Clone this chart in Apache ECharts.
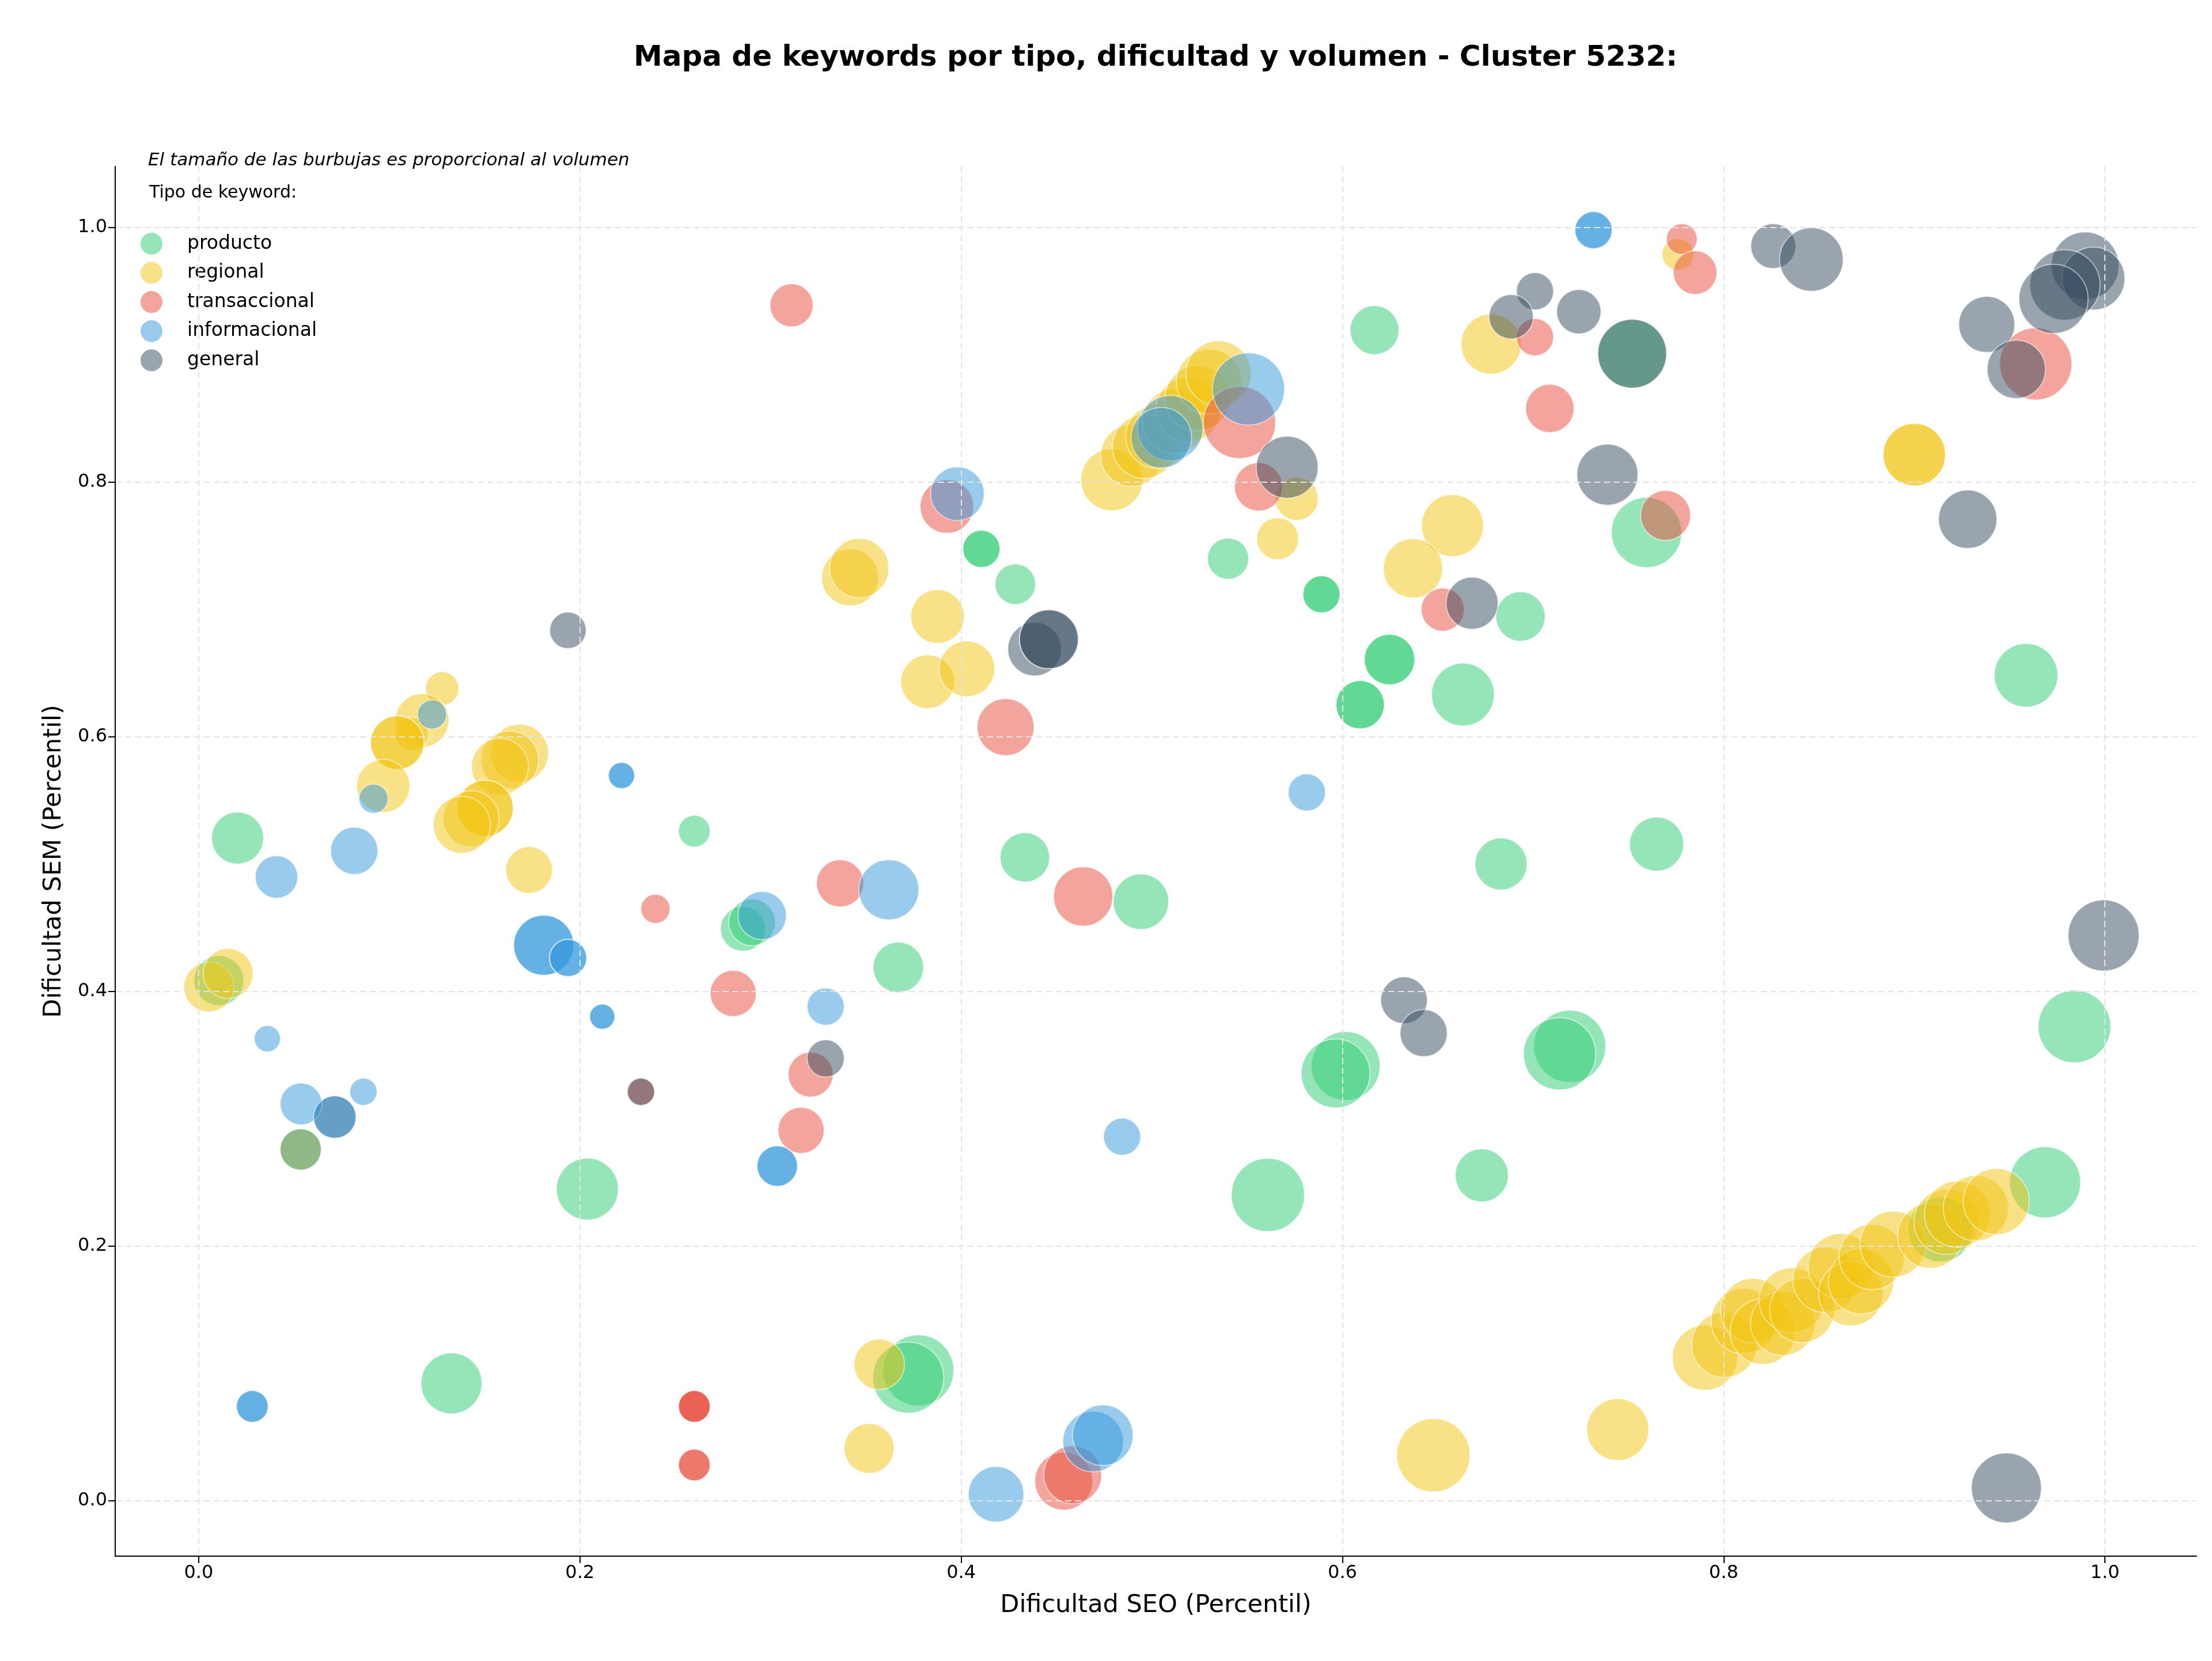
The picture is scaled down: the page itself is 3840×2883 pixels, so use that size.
<!DOCTYPE html>
<html><head><meta charset="utf-8">
<script src="https://cdn.jsdelivr.net/npm/echarts@6/dist/echarts.min.js"></script>
<style>html,body{margin:0;padding:0;background:#fff}#c{width:3840px;height:2883px}</style>
</head><body><div id="c"></div>
<script>
// ---- data ----
const categories = ['producto', 'regional', 'transaccional', 'informacional', 'general'];
const colors = { producto: '#2ecc71', regional: '#f1c40f', transaccional: '#e74c3c', informacional: '#3498db', general: '#34495e' };
const xTicks = [0, 0.2, 0.4, 0.6, 0.8, 1.0];
const yTicks = [0, 0.2, 0.4, 0.6, 0.8, 1.0];

const productoSEO = [0.4106,0.4106,0.4284,0.540,0.589,0.589,0.6168,0.752,0.7595,0.6934,0.0204,0.0106,0.26,0.4334,0.4943,0.2855,0.2903,0.367,0.6247,0.6247,0.6093,0.6093,0.6632,0.6832,0.7648,0.6017,0.5964,0.7192,0.7139,0.9586,0.984,0.2039,0.1326,0.3775,0.3722,0.5609,0.6731,0.9137,0.9686];
const productoSEM = [0.7477,0.7477,0.720,0.740,0.712,0.712,0.9195,0.901,0.7606,0.6946,0.5206,0.4086,0.526,0.5054,0.4706,0.4493,0.4544,0.419,0.6608,0.6608,0.6253,0.6253,0.6333,0.5002,0.5158,0.3416,0.3357,0.357,0.3511,0.6484,0.3726,0.2449,0.0923,0.1025,0.0968,0.2403,0.2557,0.2131,0.2502];
const productoVol = [260,260,310,320,260,260,450,890,930,460,510,470,190,460,580,380,410,480,480,480,440,440,740,510,550,890,890,980,980,760,990,720,700,950,950,1010,530,780,950];
// producto keyword drawn above the others (overlap order in the original)
const productoTopSEO = [0.0535];
const productoTopSEM = [0.276];
const productoTopVol = [320];

const regionalSEO = [0.3417,0.3465,0.3876,0.479,0.4894,0.496,0.503,0.512,0.519,0.524,0.530,0.535,0.576,0.566,0.678,0.6577,0.637,0.776,0.900,0.900,0.1277,0.1172,0.1119,0.1042,0.1042,0.0968,0.1683,0.1631,0.158,0.1503,0.1503,0.1429,0.138,0.1733,0.0053,0.0154,0.3824,0.403,0.357,0.3517,0.6477,0.7444,0.7902,0.8003,0.8105,0.8153,0.8205,0.8310,0.8357,0.8410,0.8534,0.8614,0.8667,0.8720,0.8777,0.8889,0.9084,0.9169,0.9226,0.9323,0.9430];
const regionalSEM = [0.7253,0.7326,0.6946,0.802,0.821,0.828,0.836,0.848,0.857,0.866,0.879,0.8855,0.787,0.7557,0.9086,0.766,0.7324,0.979,0.8217,0.8217,0.638,0.613,0.6024,0.5955,0.5955,0.5615,0.5873,0.582,0.5767,0.544,0.544,0.5357,0.531,0.4955,0.4036,0.4142,0.6434,0.6535,0.1072,0.0412,0.0359,0.056,0.1125,0.1226,0.1412,0.1494,0.1329,0.1395,0.1575,0.1496,0.1736,0.1844,0.1628,0.1724,0.1915,0.2016,0.2083,0.2191,0.2251,0.2299,0.2351];
const regionalVol = [610,660,540,720,720,760,760,780,780,800,800,800,350,330,680,720,660,190,730,730,210,540,210,540,540,530,630,630,610,590,590,590,610,410,470,470,540,580,480,470,1010,720,800,800,800,780,800,780,800,780,800,800,780,800,800,820,800,800,820,800,820];

const transaccionalSEO = [0.311,0.3925,0.546,0.556,0.701,0.7088,0.7695,0.6526,0.778,0.785,0.9637,0.4233,0.2396,0.3365,0.464,0.2804,0.321,0.316,0.232,0.26,0.26,0.26,0.26,0.26,0.4538,0.4585,0.0535];
const transaccionalSEM = [0.939,0.781,0.847,0.7964,0.914,0.858,0.774,0.700,0.991,0.9647,0.893,0.6077,0.465,0.485,0.4747,0.3986,0.3348,0.291,0.3213,0.0742,0.0742,0.0742,0.0282,0.0282,0.0155,0.0205,0.276];
const transaccionalVol = [350,540,980,440,260,440,470,350,180,360,980,610,160,420,660,400,380,400,140,190,190,190,190,190,630,630,320];

const informacionalSEO = [0.398,0.5097,0.505,0.5507,0.7317,0.7317,0.1224,0.0917,0.0408,0.0816,0.181,0.181,0.1938,0.1938,0.036,0.2117,0.2117,0.2218,0.2218,0.362,0.2956,0.3289,0.5813,0.0537,0.0714,0.0864,0.0281,0.0281,0.3035,0.3035,0.4844,0.4183,0.4692,0.4743];
const informacionalSEM = [0.791,0.8425,0.835,0.8733,0.998,0.998,0.6176,0.5515,0.490,0.5106,0.4364,0.4364,0.4264,0.4264,0.363,0.3803,0.3803,0.5697,0.5697,0.480,0.4597,0.3882,0.5564,0.3118,0.3014,0.3213,0.0742,0.0742,0.263,0.263,0.286,0.0052,0.0466,0.0516];
const informacionalVol = [540,800,690,980,260,260,160,160,340,420,680,680,260,260,130,120,120,130,130,680,440,260,260,330,340,140,190,190,310,310,260,580,690,690];

const generalSEO = [0.1937,0.4385,0.446,0.446,0.571,0.701,0.6885,0.724,0.752,0.739,0.668,0.826,0.846,0.9896,0.994,0.979,0.973,0.938,0.9535,0.928,0.6323,0.6426,0.9993,0.9483,0.3289,0.232,0.0714];
const generalSEM = [0.6837,0.669,0.6767,0.6767,0.8118,0.950,0.930,0.934,0.901,0.806,0.705,0.9855,0.975,0.970,0.960,0.955,0.944,0.924,0.8887,0.771,0.3932,0.3674,0.4441,0.0102,0.3475,0.3213,0.3014];
const generalVol = [250,540,650,650,720,260,370,370,890,700,510,380,760,860,740,930,900,590,640,640,410,420,950,920,260,140,340];

// ---- chart ----
const FONT = 'DejaVu Sans';
function pts(xs, ys, vs) { return xs.map((x, i) => [x, ys[i], vs[i]]); }
function mkSeries(name, xs, ys, vs) {
  return {
    name: name, type: 'scatter', data: pts(xs, ys, vs),
    symbol: 'circle',
    symbolSize: function (v) { return 4 * Math.sqrt(v[2]); },
    itemStyle: { color: colors[name], opacity: 0.5, borderColor: '#ffffff', borderWidth: 2 },
    emphasis: { disabled: true },
    animation: false
  };
}
const chart = echarts.init(document.getElementById('c'), null, { renderer: 'canvas' });
const axisCommon = {
  type: 'value',
  axisLine: { show: true, onZero: false, lineStyle: { color: '#000', width: 2 } },
  splitLine: { show: true, lineStyle: { color: '#e4e4e4', width: 2, type: [11, 6] } },
  nameLocation: 'middle',
  nameTextStyle: { fontSize: 43, color: '#000', fontFamily: FONT },
  z: 5
};
chart.setOption({
  backgroundColor: '#ffffff',
  animation: false,
  title: [
    { text: 'Mapa de keywords por tipo, dificultad y volumen - Cluster 5232:', left: 2006, top: 76, textAlign: 'center', padding: 0,
      textStyle: { fontSize: 50, fontWeight: 'bold', color: '#000', fontFamily: FONT } },
    { text: 'El tamaño de las burbujas es proporcional al volumen', left: 257, top: 263, padding: 0,
      textStyle: { fontSize: 31, fontStyle: 'italic', fontWeight: 'normal', color: '#000', fontFamily: FONT } },
    { text: 'Tipo de keyword:', left: 259, top: 320, padding: 0,
      textStyle: { fontSize: 30, fontWeight: 'normal', color: '#000', fontFamily: FONT } }
  ],
  legend: {
    orient: 'vertical', left: 244, top: 404, padding: 0,
    itemWidth: 38, itemHeight: 38, itemGap: 12.6,
    icon: 'circle',
    selectedMode: false,
    itemStyle: { opacity: 0.5, borderWidth: 0 },
    textStyle: { fontSize: 33, color: '#000', fontFamily: FONT, padding: [0, 0, 0, 38] },
    data: categories
  },
  grid: { left: 200, right: 27, top: 289, bottom: 182, containLabel: false },
  xAxis: Object.assign({}, axisCommon, {
    min: -0.0438, max: 1.048,
    name: 'Dificultad SEO (Percentil)', nameGap: 64,
    axisTick: { show: true, customValues: xTicks, length: 12, lineStyle: { color: '#000', width: 2 } },
    axisLabel: { customValues: xTicks, formatter: v => v.toFixed(1), fontSize: 32, color: '#000', margin: 14, fontFamily: FONT }
  }),
  yAxis: Object.assign({}, axisCommon, {
    min: -0.0434, max: 1.048,
    name: 'Dificultad SEM (Percentil)', nameGap: 85, nameRotate: 90,
    axisTick: { show: true, customValues: yTicks, length: 12, lineStyle: { color: '#000', width: 2 } },
    axisLabel: { customValues: yTicks, formatter: v => v.toFixed(1), fontSize: 32, color: '#000', margin: 14, fontFamily: FONT }
  }),
  series: [
    mkSeries('producto', productoSEO, productoSEM, productoVol),
    mkSeries('regional', regionalSEO, regionalSEM, regionalVol),
    mkSeries('transaccional', transaccionalSEO, transaccionalSEM, transaccionalVol),
    mkSeries('general', generalSEO, generalSEM, generalVol),
    mkSeries('informacional', informacionalSEO, informacionalSEM, informacionalVol),
    mkSeries('producto', productoTopSEO, productoTopSEM, productoTopVol)
  ]
});
</script></body></html>
